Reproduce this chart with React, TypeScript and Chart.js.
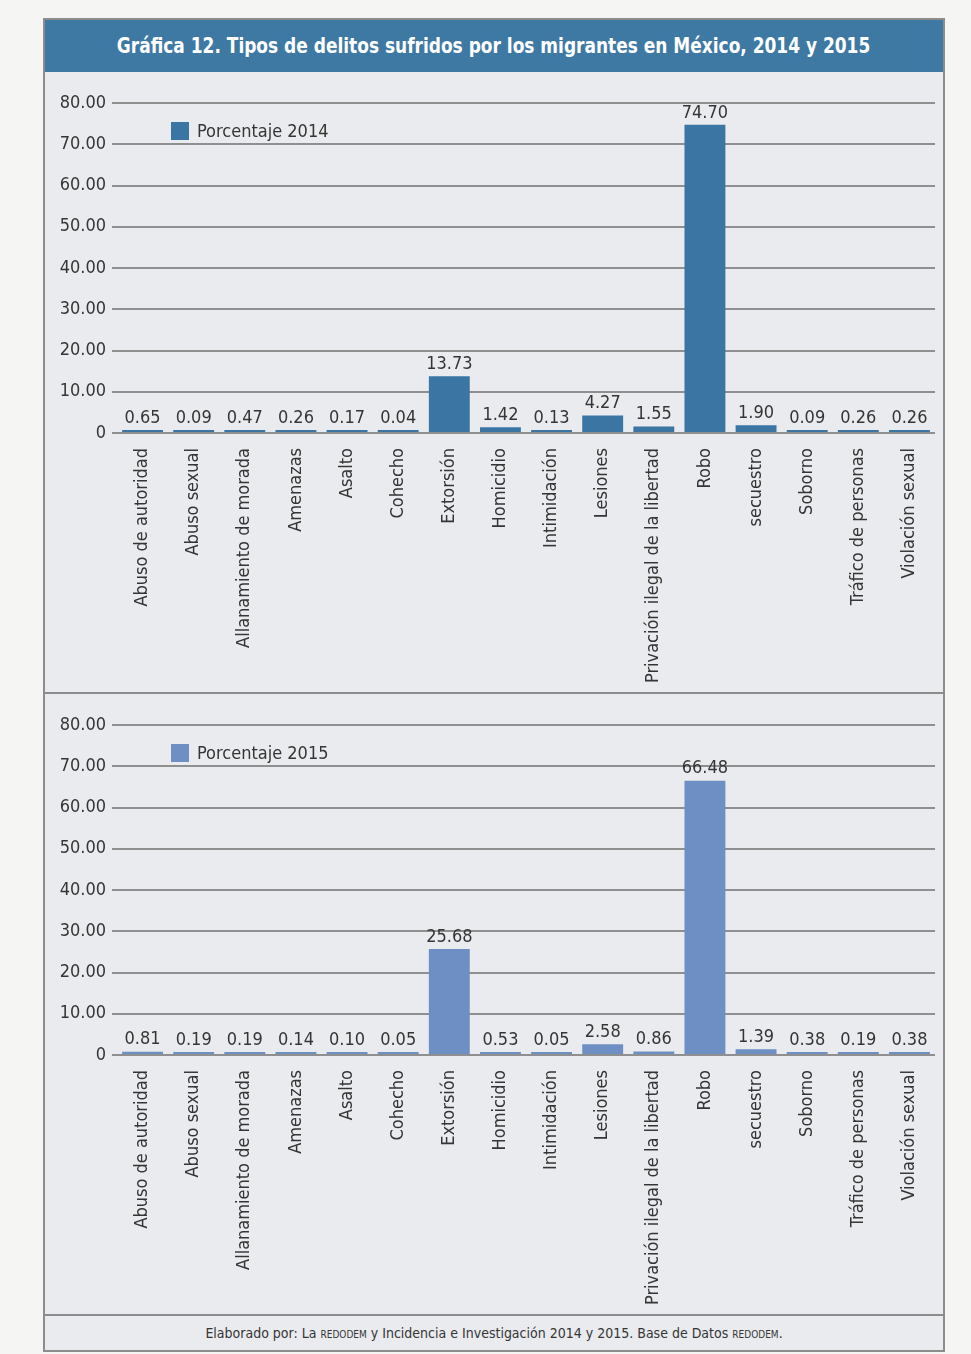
import React, { useEffect, useRef } from "react";
import { Chart, registerables } from "chart.js";

Chart.register(...registerables);

const categories = [
  "Abuso de autoridad",
  "Abuso sexual",
  "Allanamiento de morada",
  "Amenazas",
  "Asalto",
  "Cohecho",
  "Extorsión",
  "Homicidio",
  "Intimidación",
  "Lesiones",
  "Privación ilegal de la libertad",
  "Robo",
  "secuestro",
  "Soborno",
  "Tráfico de personas",
  "Violación sexual",
];

const values2014 = [0.65, 0.09, 0.47, 0.26, 0.17, 0.04, 13.73, 1.42, 0.13, 4.27, 1.55, 74.7, 1.9, 0.09, 0.26, 0.26];
const values2015 = [0.81, 0.19, 0.19, 0.14, 0.1, 0.05, 25.68, 0.53, 0.05, 2.58, 0.86, 66.48, 1.39, 0.38, 0.19, 0.38];

const yMin = 0;
const yMax = 80;
const yStep = 10;

const TITLE = "Gráfica 12. Tipos de delitos sufridos por los migrantes en México, 2014 y 2015";
const LABEL_2014 = "Porcentaje 2014";
const LABEL_2015 = "Porcentaje 2015";

const FONT = '"Liberation Sans Narrow", "DejaVu Sans Condensed", "Open Sans", sans-serif';
const TEXT = "#353535";

const CW = 898;
const CH = 620;

const valueLabelPlugin = {
  id: "valueLabels",
  afterDatasetsDraw(chart: any) {
    const ctx = chart.ctx;
    ctx.save();
    ctx.font = `18px ${FONT}`;
    ctx.fillStyle = TEXT;
    ctx.textAlign = "center";
    ctx.textBaseline = "bottom";
    chart.data.datasets.forEach((ds: any, di: number) => {
      const meta = chart.getDatasetMeta(di);
      meta.data.forEach((bar: any, i: number) => {
        const v = ds.data[i];
        ctx.fillText(Number(v).toFixed(2), bar.x, bar.y - 3);
      });
    });
    ctx.restore();
  },
};

const legendPlugin = {
  id: "insideLegend",
  afterDraw(chart: any) {
    const ctx = chart.ctx;
    const ds = chart.data.datasets[0];
    const x = chart.chartArea.left + 54;
    const y = chart.chartArea.top + 19;
    ctx.save();
    ctx.fillStyle = ds.backgroundColor;
    ctx.fillRect(x, y, 18, 18);
    ctx.font = `18px ${FONT}`;
    ctx.fillStyle = TEXT;
    ctx.textAlign = "left";
    ctx.textBaseline = "middle";
    ctx.fillText(ds.label, x + 26, y + 10);
    ctx.restore();
  },
};

function Panel({ label, values, color }: { label: string; values: number[]; color: string }) {
  const ref = useRef<HTMLCanvasElement | null>(null);
  useEffect(() => {
    if (!ref.current) return;
    const chart = new Chart(ref.current, {
      type: "bar",
      data: {
        labels: categories,
        datasets: [
          {
            label,
            data: values,
            backgroundColor: color,
            borderWidth: 0,
            barPercentage: 0.8,
            categoryPercentage: 1,
            minBarLength: 3,
          },
        ],
      },
      options: {
        animation: false,
        responsive: false,
        devicePixelRatio: 1,
        layout: { padding: { top: 31, right: 8, left: 0, bottom: 0 } },
        plugins: { legend: { display: false }, tooltip: { enabled: false } },
        scales: {
          x: {
            grid: { display: false },
            border: { display: false },
            ticks: {
              autoSkip: false,
              minRotation: 90,
              maxRotation: 90,
              padding: 7,
              color: TEXT,
              font: { family: FONT, size: 18 },
            },
            afterFit: (scale: any) => {
              scale.height = CH - 361;
            },
          },
          y: {
            min: yMin,
            max: yMax,
            border: { display: false },
            grid: { color: "#8f8f8f", lineWidth: 2, drawTicks: true, tickLength: 5, tickColor: "#8f8f8f" },
            ticks: {
              stepSize: yStep,
              padding: 6,
              color: TEXT,
              font: { family: FONT, size: 18 },
              callback: (v: any) => (Number(v) === 0 ? "0" : Number(v).toFixed(2)),
            },
            afterFit: (scale: any) => {
              scale.width = 72;
            },
          },
        },
      },
      plugins: [valueLabelPlugin, legendPlugin],
    });
    return () => chart.destroy();
  }, [label, values, color]);
  return <canvas ref={ref} width={CW} height={CH} style={{ display: "block", width: CW, height: CH }} />;
}

export default function App() {
  return (
    <div style={{ position: "absolute", left: 0, top: 0, width: 971, height: 1354, background: "#f5f5f4" }}>
      <div
        style={{
          position: "absolute",
          left: 43,
          top: 18,
          width: 898,
          height: 1330,
          border: "2px solid #8c8c8c",
          background: "#e9ebee",
        }}
      >
        <div
          style={{
            height: 52,
            background: "#3e79a4",
            color: "#ffffff",
            fontFamily: FONT,
            fontWeight: "bold",
            fontSize: 21,
            lineHeight: "52px",
            display: "flex",
            justifyContent: "center",
            whiteSpace: "nowrap",
          }}
        >
          <span style={{ display: "inline-block", transform: "scaleX(0.9)" }}>{TITLE}</span>
        </div>
        <Panel label={LABEL_2014} values={values2014} color="#3b75a4" />
        <div style={{ height: 2, background: "#8c8c8c" }} />
        <Panel label={LABEL_2015} values={values2015} color="#6d8fc4" />
        <div
          style={{
            borderTop: "2px solid #8c8c8c",
            height: 34,
            lineHeight: "34px",
            textAlign: "center",
            fontFamily: FONT,
            fontSize: 14,
            color: TEXT,
          }}
        >
          Elaborado por: La <span style={{ fontSize: 10 }}>REDODEM</span> y Incidencia e Investigación 2014 y 2015. Base de
          Datos <span style={{ fontSize: 10 }}>REDODEM</span>.
        </div>
      </div>
    </div>
  );
}
